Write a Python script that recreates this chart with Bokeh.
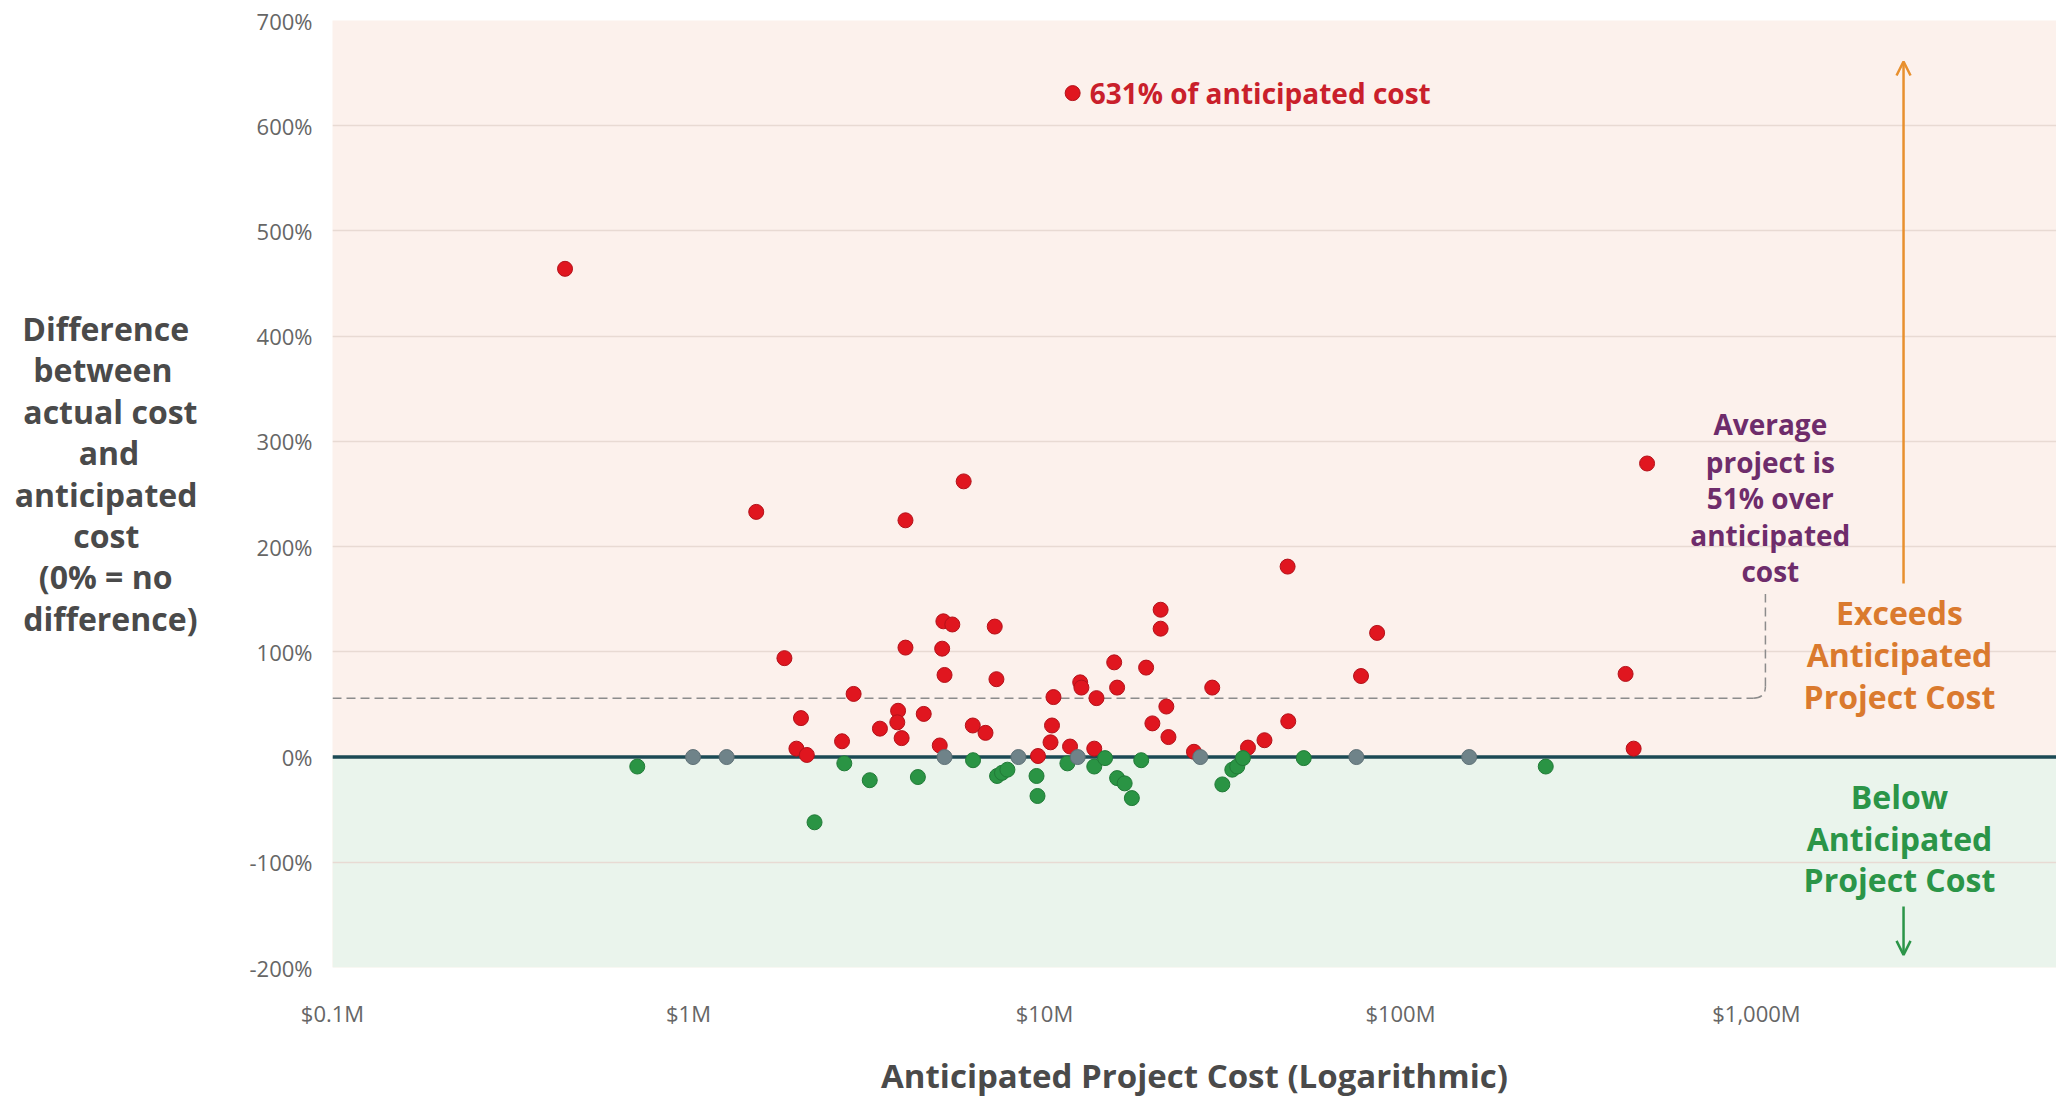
from bokeh.plotting import figure
from bokeh.models import (Range1d, FixedTicker, CustomJSTickFormatter, PrintfTickFormatter,
                          BoxAnnotation, Span, Label, Arrow, OpenHead)
from bokeh.embed import file_html
from bokeh.resources import INLINE

# ---------------- data ----------------
# Anticipated project cost ($M) and difference between actual and anticipated cost (%)
over_cost = [12.0, 0.45, 1.55, 4.07, 5.93, 493, 48.2, 21.2, 21.2, 86.0,
             1.86, 4.07, 5.20, 5.51, 7.25, 5.16, 5.24, 7.33, 2.91, 2.07,
             3.88, 3.86, 3.97, 4.58, 3.45, 2.70, 2.01, 2.15, 5.08, 6.29,
             6.83, 9.59, 10.6, 10.5, 10.4, 11.8, 13.8, 12.6, 12.7, 14.0,
             15.7, 16.0, 19.3, 22.0, 20.1, 22.3, 26.3, 29.6, 37.3, 41.5,
             48.4, 77.5, 429, 452]
over_pct = [631, 464, 233, 225, 262, 279, 181, 140, 122, 118,
            94, 104, 129, 126, 124, 103, 78, 74, 60, 37,
            44, 33, 18, 41, 27, 15, 8, 2, 11, 30,
            23, 1, 57, 30, 14, 10, 8, 71, 66, 56,
            90, 66, 85, 48, 32, 19, 5, 66, 9, 16,
            34, 77, 79, 8]

under_cost = [0.718, 2.26, 2.74, 3.23, 4.41, 6.30, 7.36, 7.60, 7.87, 9.50,
              9.56, 11.6, 13.8, 14.8, 16.0, 16.8, 17.6, 18.7, 31.6, 33.7,
              34.8, 36.1, 53.5, 256]
under_pct = [-9, -62, -6, -22, -19, -3, -18, -15, -12, -18,
             -37, -6, -9, -1, -20, -25, -39, -3, -26, -12,
             -9, -1, -1, -9]

even_cost = [1.03, 1.28, 5.24, 8.45, 12.4, 27.4, 75.2, 156]
even_pct = [0, 0, 0, 0, 0, 0, 0, 0]

x_tick_values = [0.1, 1, 10, 100, 1000]
x_tick_labels = ["$0.1M", "$1M", "$10M", "$100M", "$1,000M"]
y_tick_values = [-200, -100, 0, 100, 200, 300, 400, 500, 600, 700]

max_label = "631% of anticipated cost"
avg_label_lines = ["Average", "project is", "51% over", "anticipated", "cost"]
exceeds_lines = ["Exceeds", "Anticipated", "Project Cost"]
below_lines = ["Below", "Anticipated", "Project Cost"]
ytitle_lines = ["Difference", "between", "actual cost", "and", "anticipated", "cost",
                "(0% = no", "difference)"]
x_title = "Anticipated Project Cost (Logarithmic)"

AVG_LINE_Y = 56  # drawn level of the average guide line

# ---------------- styles ----------------
FONT = "Open Sans"
RED = "#E0161F"
RED_EDGE = "#B3121A"
GREEN = "#2A9444"
GREEN_EDGE = "#217A37"
GREY = "#6F8389"
PEACH = "#FCF1EC"
MINT = "#EAF4EC"

W, H = 2056, 1100
BORDER_L, BORDER_T, BORDER_B = 332, 20, 131

p = figure(width=W, height=H, title=None,
           x_axis_type="log", x_range=Range1d(0.1, 6966), y_range=Range1d(-200, 700),
           output_backend="svg", toolbar_location=None,
           min_border_left=BORDER_L, min_border_right=0, min_border_top=BORDER_T,
           min_border_bottom=BORDER_B)

p.background_fill_color = PEACH
p.border_fill_color = "white"
p.outline_line_color = None

p.add_layout(BoxAnnotation(top=0, fill_color=MINT, fill_alpha=1.0, line_color=None, level="image"))

p.xgrid.grid_line_color = None
p.ygrid.grid_line_color = "#E8DAD3"
p.ygrid.grid_line_width = 1.5
p.ygrid.ticker = FixedTicker(ticks=y_tick_values)

# axes
p.xaxis.ticker = FixedTicker(ticks=x_tick_values)
p.xaxis.formatter = CustomJSTickFormatter(
    args=dict(vals=x_tick_values, labels=x_tick_labels),
    code="""
    for (let i = 0; i < vals.length; i++) {
        if (Math.abs(Math.log10(vals[i]) - Math.log10(tick)) < 1e-6) { return labels[i]; }
    }
    return "";
    """)
p.yaxis.ticker = FixedTicker(ticks=y_tick_values)
p.yaxis.formatter = PrintfTickFormatter(format="%d%%")

for ax in (p.xaxis[0], p.yaxis[0]):
    ax.axis_line_color = None
    ax.major_tick_line_color = None
    ax.minor_tick_line_color = None
    ax.major_tick_out = 0
    ax.major_tick_in = 0
    ax.major_label_text_font = FONT
    ax.major_label_text_font_size = "22px"
    ax.major_label_text_color = "#666666"

p.yaxis.major_label_standoff = 20
p.xaxis.major_label_standoff = 30
p.xaxis.axis_label = x_title
p.xaxis.axis_label_text_font = FONT
p.xaxis.axis_label_text_font_style = "bold"
p.xaxis.axis_label_text_font_size = "33px"
p.xaxis.axis_label_text_color = "#4A4A4A"
p.xaxis.axis_label_standoff = 22

# y-axis title: horizontal multi-line label; lines are padded (no-break spaces)
# so that the right-anchored block looks centred
NBSP = "\u00a0"
pad = [1, 3, 0, 7, 0, 7, 3, 0]
ytitle_text = "\n".join(t + NBSP * n for t, n in zip(ytitle_lines, pad)) + "\n" + NBSP
yax = p.yaxis[0]
yax.axis_label = ytitle_text
yax.axis_label_orientation = "horizontal"
yax.axis_label_text_font = FONT
yax.axis_label_text_font_style = "bold"
yax.axis_label_text_font_size = "32px"
yax.axis_label_text_color = "#4A4A4A"
yax.axis_label_text_line_height = 0.965
yax.axis_label_standoff = 49

# zero line
p.add_layout(Span(location=0, dimension="width", line_color="#1C4A55", line_width=3.5, level="underlay"))

# average guide line with rounded corner
x_corner = 980
x_vert = 1060
p.segment(x0=[0.1], y0=[AVG_LINE_Y], x1=[x_corner], y1=[AVG_LINE_Y],
          line_color="#8C8C8C", line_width=1.5, line_dash="9 5")
p.quadratic(x0=[x_corner], y0=[AVG_LINE_Y], x1=[x_vert], y1=[AVG_LINE_Y + 11],
            cx=[x_vert], cy=[AVG_LINE_Y], line_color="#8C8C8C", line_width=1.5, line_dash="9 5")
p.segment(x0=[x_vert], y0=[AVG_LINE_Y + 11], x1=[x_vert], y1=[155],
          line_color="#8C8C8C", line_width=1.5, line_dash="9 5")

# points
p.scatter(over_cost, over_pct, size=15, fill_color=RED, line_color=RED_EDGE, line_width=1)
p.scatter(under_cost, under_pct, size=15, fill_color=GREEN, line_color=GREEN_EDGE, line_width=1)
p.scatter(even_cost, even_pct, size=15, fill_color=GREY, line_color="#5E7076", line_width=1)

# labels
p.add_layout(Label(x=over_cost[0], y=over_pct[0], text=max_label, x_offset=17,
                   text_baseline="middle", text_align="left", text_font=FONT,
                   text_font_style="bold", text_font_size="28px", text_color="#C9202B"))

avg_y = [316.6, 280.5, 245.8, 211.3, 176.7]
for t, yy in zip(avg_label_lines, avg_y):
    p.add_layout(Label(x=1094, y=yy, text=t, text_align="center", text_baseline="middle",
                       text_font=FONT, text_font_style="bold", text_font_size="28px",
                       text_color="#6E2C6B"))

ex_y = [137.1, 97.5, 57.8]
for t, yy in zip(exceeds_lines, ex_y):
    p.add_layout(Label(x=2523, y=yy, text=t, text_align="center", text_baseline="middle",
                       text_font=FONT, text_font_style="bold", text_font_size="32px",
                       text_color="#DA7A2E"))

be_y = [-37.5, -77.1, -116.7]
for t, yy in zip(below_lines, be_y):
    p.add_layout(Label(x=2523, y=yy, text=t, text_align="center", text_baseline="middle",
                       text_font=FONT, text_font_style="bold", text_font_size="32px",
                       text_color="#2B9548"))

# arrows
p.add_layout(Arrow(end=OpenHead(size=14, line_color="#E8902E", line_width=2.5),
                   x_start=2590, y_start=165, x_end=2590, y_end=661,
                   line_color="#E8902E", line_width=2.5))
p.add_layout(Arrow(end=OpenHead(size=14, line_color="#2B9548", line_width=2.5),
                   x_start=2590, y_start=-142, x_end=2590, y_end=-188,
                   line_color="#2B9548", line_width=2.5))

open("out.html", "w").write(file_html(p, INLINE))
